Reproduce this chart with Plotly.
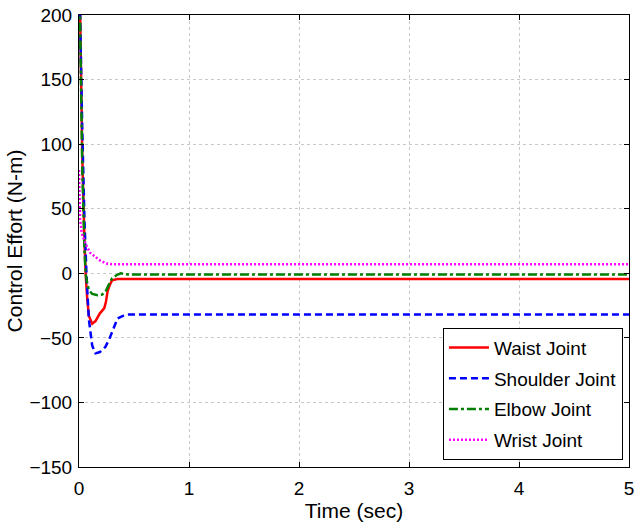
import plotly.graph_objects as go

# Time samples (s) and joint control efforts (N-m)
t_waist = [0, 0.01, 0.03, 0.05, 0.06, 0.075, 0.09, 0.12, 0.15, 0.19, 0.23, 0.245, 0.26, 0.28, 0.30, 0.35, 0.40, 5.0]
waist = [260, 190, 90, 25, 0, -20, -33, -39, -37, -31, -27, -22, -14, -9, -5.5, -4.5, -4.5, -4.5]

t_shoulder = [0, 0.01, 0.03, 0.05, 0.07, 0.09, 0.12, 0.15, 0.19, 0.24, 0.28, 0.32, 0.35, 0.40, 0.45, 5.0]
shoulder = [270, 200, 110, 40, -5, -36, -56, -62, -61, -57, -50, -41, -35, -33, -32, -32]

t_elbow = [0, 0.01, 0.03, 0.05, 0.06, 0.075, 0.09, 0.12, 0.17, 0.21, 0.24, 0.27, 0.30, 0.34, 0.38, 0.45, 5.0]
elbow = [250, 180, 80, 18, 0, -8, -13, -16, -17, -16.5, -14.5, -9, -4, -1.5, 0, -1, -1]

t_wrist = [0, 0.005, 0.01, 0.025, 0.06, 0.10, 0.15, 0.19, 0.25, 0.30, 5.0]
wrist = [80, 55, 42, 31, 23, 16, 12.5, 10, 7.5, 7, 7]

x_ticks = [0, 1, 2, 3, 4, 5]
y_ticks = [-150, -100, -50, 0, 50, 100, 150, 200]

font_family = "Liberation Sans, Arial, sans-serif"

fig = go.Figure()
fig.add_trace(go.Scatter(x=t_waist, y=waist, mode="lines", name="Waist Joint",
                         legendgroup="w", line=dict(color="#ff0000", width=2.5)))
fig.add_trace(go.Scatter(x=t_shoulder, y=shoulder, mode="lines", name="Shoulder Joint",
                         legendgroup="s",
                         line=dict(color="#0000ff", width=2.5, dash="7px,4px")))
fig.add_trace(go.Scatter(x=t_elbow, y=elbow, mode="lines", name="Elbow Joint",
                         legendgroup="e",
                         line=dict(color="#008000", width=2.5, dash="9px,3px,3px,3px")))
fig.add_trace(go.Scatter(x=t_wrist, y=wrist, mode="lines", name="Wrist Joint",
                         legendgroup="r",
                         line=dict(color="#ff00ff", width=2.5, dash="2px,2px")))

axis_common = dict(
    showline=True, linecolor="black", linewidth=1, mirror="ticks",
    ticks="inside", ticklen=5, tickcolor="black",
    showgrid=True, gridcolor="#c8c8c8", griddash="dot", gridwidth=1,
    zeroline=False, automargin=False,
    tickfont=dict(family=font_family, size=19, color="black"),
)

fig.update_layout(
    width=644, height=529,
    margin=dict(l=79, r=15, t=15, b=62),
    paper_bgcolor="white", plot_bgcolor="white",
    font=dict(family=font_family, color="black"),
    xaxis=dict(range=[0, 5], tickvals=x_ticks, ticklabelstandoff=4,
               title=dict(text="Time (sec)", font=dict(size=21), standoff=5),
               **axis_common),
    yaxis=dict(range=[-150, 200], tickvals=y_ticks, ticklabelstandoff=2,
               title=dict(text="Control Effort (N-m)", font=dict(size=21), standoff=1),
               **axis_common),
    legend=dict(x=0.989, y=0.016, xanchor="right", yanchor="bottom",
                bgcolor="white", bordercolor="black", borderwidth=1,
                font=dict(size=19, color="black"), itemwidth=40,
                tracegroupgap=3),
    showlegend=True,
)

fig.write_html("out.html")
